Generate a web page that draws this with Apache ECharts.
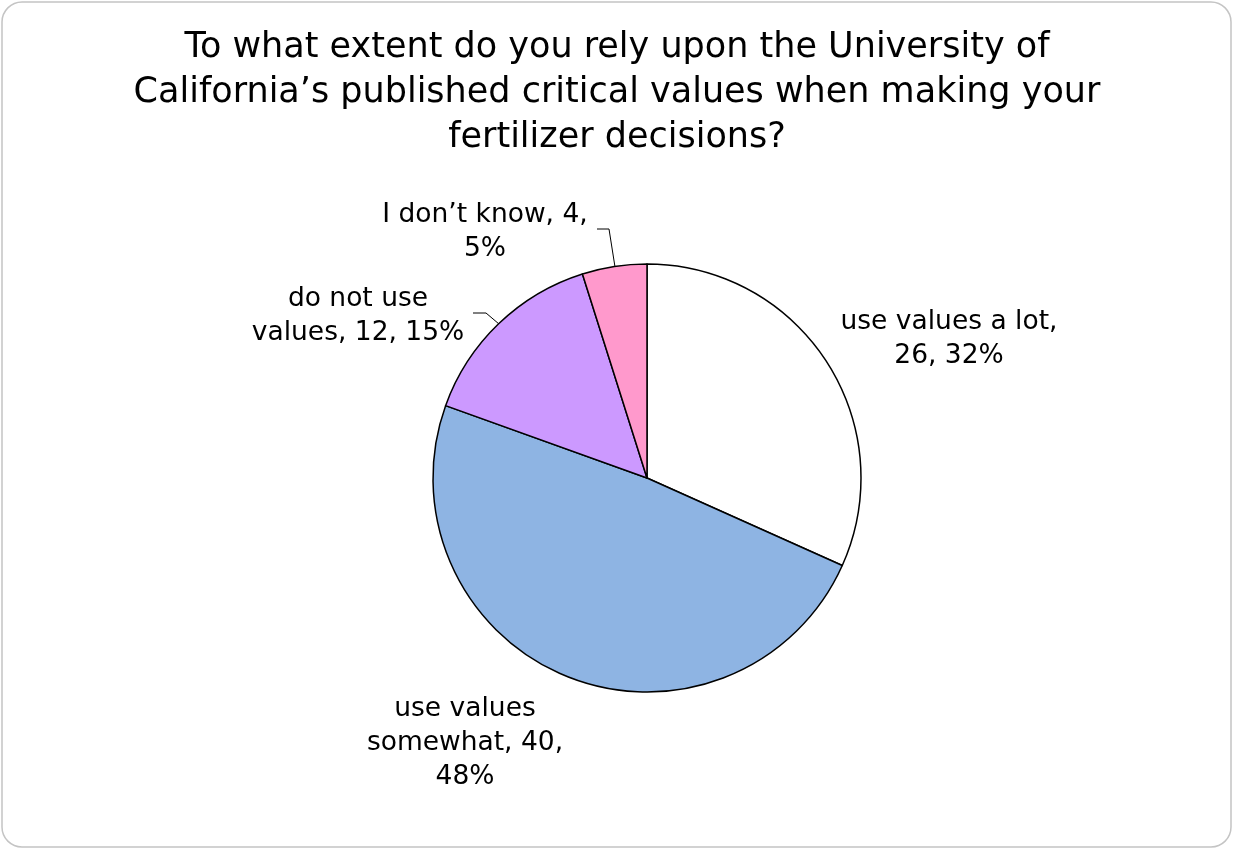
<!DOCTYPE html>
<html>
<head>
<meta charset="utf-8">
<script src="https://cdn.jsdelivr.net/npm/echarts@6/dist/echarts.min.js"></script>
<style>
html,body{margin:0;padding:0;background:#fff;}
#chart{width:1234px;height:851px;}
</style>
</head>
<body>
<div id="chart"></div>
<script>
const titleText = "To what extent do you rely upon the University of\nCalifornia\u2019s published critical values when making your\nfertilizer decisions?";
const categories = ["use values a lot", "use values somewhat", "do not use values", "I don\u2019t know"];
const counts = [26, 40, 12, 4];
const percentLabels = ["32%", "48%", "15%", "5%"];
const colors = ["#FFFFFF", "#8EB4E3", "#CC99FF", "#FF99CC"];
// where the label text wraps (as in the reference)
const wrappedLabels = [
  "use values a lot,\n26, 32%",
  "use values\nsomewhat, 40,\n48%",
  "do not use\nvalues, 12, 15%",
  "I don\u2019t know, 4,\n5%"
];
// label placement (layout only)
const labelPos = [[949, 339], [465, 743], [358, 316], [485, 232]];
const leaderLines = [null, null,
  [[499, 324], [486, 313], [473, 313]],
  [[615, 267], [609, 229], [597, 229]]];

const chart = echarts.init(document.getElementById('chart'));
const font = "Verdana, 'DejaVu Sans', sans-serif";
chart.setOption({
  backgroundColor: '#fff',
  title: {
    text: titleText,
    left: 'center', top: 25, padding: 0,
    textStyle: {fontFamily: font, fontSize: 35, fontWeight: 'normal', color: '#000', lineHeight: 45, align: 'center'}
  },
  graphic: [{
    type: 'rect', shape: {x: 2, y: 2, width: 1229, height: 845, r: 20},
    style: {fill: 'none', stroke: '#C4C4C4', lineWidth: 1.5}, silent: true, z: -1
  }],
  series: [{
    type: 'pie',
    center: [647, 478],
    radius: [0, 214],
    startAngle: 90,
    clockwise: true,
    avoidLabelOverlap: false,
    animation: false,
    itemStyle: {borderColor: '#000', borderWidth: 1.5},
    label: {
      show: true, position: 'outside',
      fontFamily: font, fontSize: 26.5, color: '#000', lineHeight: 34, align: 'center',
      formatter: p => wrappedLabels[p.dataIndex]
    },
    labelLine: {show: true, lineStyle: {color: '#000', width: 1}},
    labelLayout: function (params) {
      const i = params.dataIndex;
      const o = {x: labelPos[i][0], y: labelPos[i][1], align: 'center', verticalAlign: 'middle'};
      if (leaderLines[i]) o.labelLinePoints = leaderLines[i];
      return o;
    },
    data: categories.map((c, i) => ({
      name: c, value: counts[i], pct: percentLabels[i],
      itemStyle: {color: colors[i]},
      labelLine: {show: !!leaderLines[i]}
    }))
  }]
});
</script>
</body>
</html>
